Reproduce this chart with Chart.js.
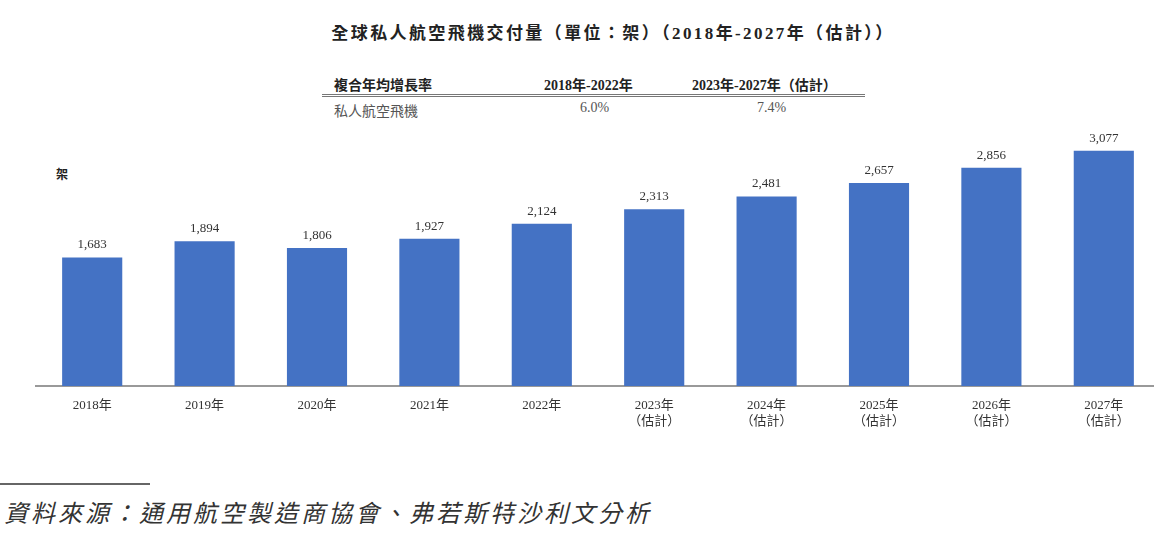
<!DOCTYPE html>
<html>
<head>
<meta charset="utf-8">
<script src="https://cdn.jsdelivr.net/npm/chart.js@4/dist/chart.umd.min.js"></script>
<style>
  body { margin: 0; width: 1154px; height: 543px; background: #fff; position: relative; overflow: hidden;
         font-family: "Liberation Serif", "Noto Sans CJK TC", serif; color: #222; }
  .abs { position: absolute; }
  #title { left: 0; width: 1226px; top: 19px; text-align: center; font-weight: bold; font-size: 17px; letter-spacing: 2.4px; }
  #tbl { left: 322px; top: 71px; width: 543px; font-size: 14px; }
  #tbl .hd { height: 23px; border-bottom: 3px double #777; font-weight: bold; position: relative; }
  #tbl .rw { height: 22px; position: relative; color: #555; }
  #tbl span { position: absolute; top: 3px; }
  #unit { left: 56px; top: 165px; font-size: 12px; font-weight: bold; }
  #srcline { left: 0; top: 483px; width: 150px; border-top: 2px solid #666; }
  #src { left: 4px; top: 494px; font-size: 24px; font-style: italic; color: #333; letter-spacing: 3px; }
  #wrap { left: 0; top: 130px; width: 1160px; height: 320px; }
</style>
</head>
<body>
<div id="title" class="abs">全球私人航空飛機交付量（單位：架）（2018年-2027年（估計））</div>
<div id="tbl" class="abs">
  <div class="hd"><span style="left:12px">複合年均增長率</span><span style="left:222px">2018年-2022年</span><span style="left:370px">2023年-2027年（估計）</span></div>
  <div class="rw"><span style="left:12px">私人航空飛機</span><span style="left:258px">6.0%</span><span style="left:435px">7.4%</span></div>
</div>
<div id="unit" class="abs">架</div>
<div id="wrap" class="abs"><canvas id="chart"></canvas></div>
<div id="srcline" class="abs"></div>
<div id="src" class="abs">資料來源：通用航空製造商協會、弗若斯特沙利文分析</div>
<script>
// 年份ラベル
var years = [['2018年'], ['2019年'], ['2020年'], ['2021年'], ['2022年'],
             ['2023年', '（估計）'], ['2024年', '（估計）'], ['2025年', '（估計）'], ['2026年', '（估計）'], ['2027年', '（估計）']];
// 交付量
var deliveries = [1683, 1894, 1806, 1927, 2124, 2313, 2481, 2657, 2856, 3077];

var labelFont = '13px "Liberation Serif", "Noto Sans CJK TC", serif';

// 棒の上に数値を描く
var valueLabels = {
  id: 'valueLabels',
  afterDatasetsDraw: function(chart) {
    var c = chart.ctx;
    var meta = chart.getDatasetMeta(0);
    c.save();
    c.font = labelFont;
    c.fillStyle = '#333';
    c.textAlign = 'center';
    c.textBaseline = 'bottom';
    meta.data.forEach(function(bar, i) {
      c.fillText(deliveries[i].toLocaleString('en-US'), bar.x, bar.y - 6);
    });
    c.restore();
  }
};

new Chart(document.getElementById('chart'), {
  type: 'bar',
  data: {
    labels: years,
    datasets: [{
      data: deliveries,
      backgroundColor: '#4472C4',
      barPercentage: 0.535,
      categoryPercentage: 1.0
    }]
  },
  options: {
    responsive: true,
    maintainAspectRatio: false,
    animation: false,
    layout: { padding: { left: 36, right: 0, top: 0, bottom: 14 } },
    plugins: { legend: { display: false }, tooltip: { enabled: false } },
    scales: {
      x: {
        grid: { display: false },
        border: { color: '#999', width: 2 },
        ticks: { color: '#333', font: { family: '"Liberation Serif", "Noto Sans CJK TC", serif', size: 13 }, padding: 4, maxRotation: 0, autoSkip: false },
        afterFit: function(s) { s.height = 50; }
      },
      y: { display: false, min: 0, max: 3350 }
    }
  },
  plugins: [valueLabels]
});
</script>
</body>
</html>
